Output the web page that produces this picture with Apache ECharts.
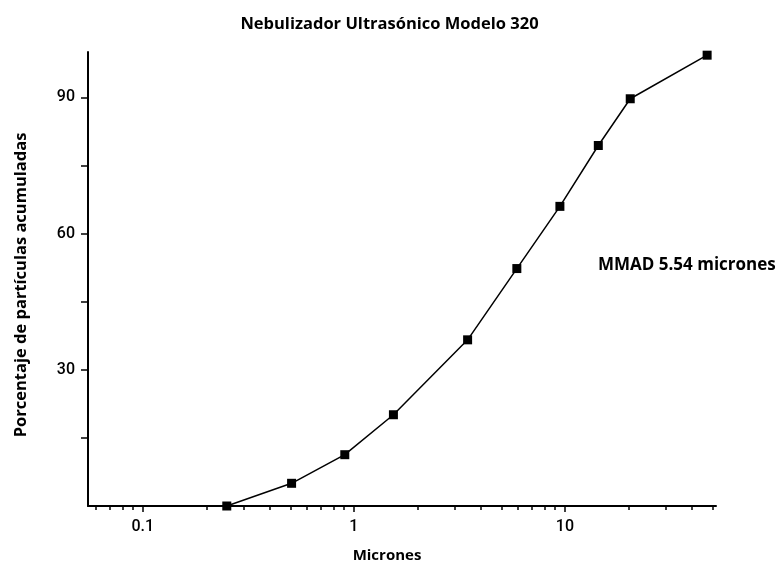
<!DOCTYPE html>
<html>
<head>
<meta charset="utf-8">
<script src="https://cdn.jsdelivr.net/npm/echarts@6/dist/echarts.min.js"></script>
<style>
  html, body { margin: 0; padding: 0; background: #fff; }
  #box { width: 779px; height: 579px; }
</style>
</head>
<body>
<div id="box"></div>
<script>
// datos
const micrones = [0.25, 0.507, 0.906, 1.54, 3.46, 5.92, 9.47, 14.4, 20.4, 47.2]
const porcentaje = [0, 5.0, 11.3, 20.1, 36.6, 52.3, 66.0, 79.4, 89.7, 99.3]
const xLabels = [0.1, 1, 10]
const xMinorTicks = [0.06, 0.07, 0.08, 0.09, 0.2, 0.3, 0.4, 0.5, 0.6, 0.7, 0.8, 0.9,
  2, 3, 4, 5, 6, 7, 8, 9, 20, 30, 40, 50]
const yTicks = [15, 30, 45, 60, 75, 90]
const yLabels = [30, 60, 90]

const chart = echarts.init(document.getElementById('box'))

const xMin = 0.055, xMax = 52
const tickFont = { fontFamily: 'Roboto', fontWeight: 500, fontSize: 16, color: '#000' }

const option = {
  backgroundColor: '#fff',
  animation: false,
  title: {
    text: 'Nebulizador Ultrasónico Modelo 320',
    left: 'center',
    top: 11,
    textStyle: { fontFamily: 'Open Sans', fontWeight: 'bold', fontSize: 16.5, color: '#000' }
  },
  grid: { left: 88, right: 63, top: 52, bottom: 73, containLabel: false, outerBoundsMode: 'none' },
  xAxis: [
    {
      type: 'log',
      logBase: 10,
      min: xMin,
      max: xMax,
      name: 'Micrones',
      nameLocation: 'middle',
      nameGap: 42,
      nameTextStyle: { fontFamily: 'Open Sans', fontWeight: 'bold', fontSize: 15, color: '#000', padding: [0, 30, 0, 0] },
      axisLine: { show: true, lineStyle: { color: '#000', width: 2 } },
      axisTick: { show: true, inside: false, length: 6, customValues: xLabels, lineStyle: { color: '#000', width: 1.5 } },
      axisLabel: Object.assign({
        show: true, customValues: xLabels, margin: 13,
        formatter: v => String(v)
      }, tickFont),
      splitLine: { show: false },
      minorTick: { show: false }
    },
    {
      type: 'log',
      logBase: 10,
      min: xMin,
      max: xMax,
      position: 'bottom',
      axisLine: { show: false },
      axisTick: { show: true, inside: false, length: 4, customValues: xMinorTicks, lineStyle: { color: '#000', width: 1.5 } },
      axisLabel: { show: false },
      splitLine: { show: false }
    }
  ],
  yAxis: {
    type: 'value',
    min: 0,
    max: 100,
    name: 'Porcentaje de partículas acumuladas',
    nameLocation: 'middle',
    nameGap: 58,
    nameTextStyle: { fontFamily: 'Open Sans', fontWeight: 'bold', fontSize: 16.5, color: '#000', padding: [0, 12, 0, 0] },
    axisLine: { show: true, lineStyle: { color: '#000', width: 2 } },
    axisTick: { show: true, inside: false, length: 7, customValues: yTicks, lineStyle: { color: '#000', width: 1.5 } },
    axisLabel: Object.assign({ show: true, customValues: yLabels, margin: 13 }, tickFont),
    splitLine: { show: false }
  },
  graphic: [
    {
      type: 'text',
      left: 598,
      top: 257,
      style: {
        text: 'MMAD 5.54 micrones',
        fontFamily: 'Open Sans', fontWeight: 'bold', fontSize: 17, fill: '#000'
      }
    }
  ],
  series: [
    {
      type: 'line',
      xAxisIndex: 0,
      data: micrones.map((m, i) => [m, porcentaje[i]]),
      symbol: 'rect',
      symbolSize: 9,
      clip: false,
      lineStyle: { color: '#000', width: 1.5 },
      itemStyle: { color: '#000' }
    }
  ]
}

chart.setOption(option)
</script>
</body>
</html>
